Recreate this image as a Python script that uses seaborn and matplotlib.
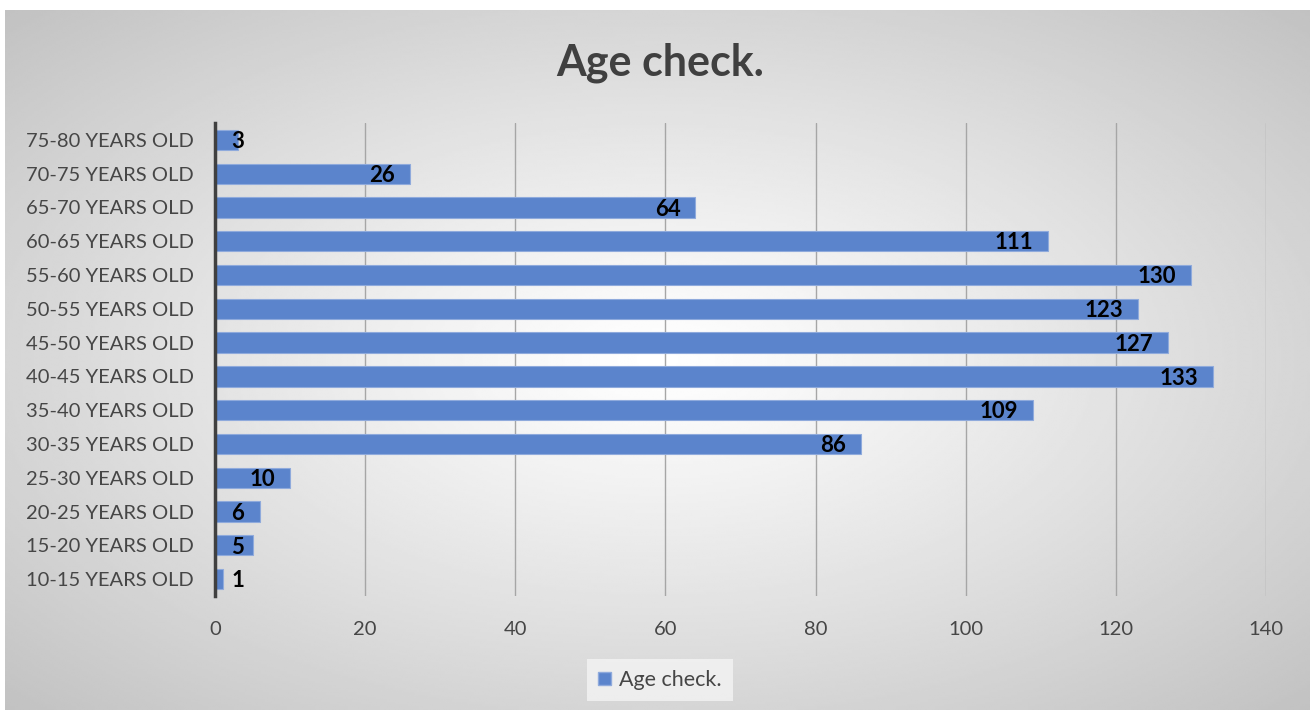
import numpy as np
import pandas as pd
import seaborn as sns
import matplotlib.pyplot as plt
from matplotlib.patches import Patch

# data, youngest to oldest
age_groups = ['10-15 YEARS OLD', '15-20 YEARS OLD', '20-25 YEARS OLD', '25-30 YEARS OLD',
              '30-35 YEARS OLD', '35-40 YEARS OLD', '40-45 YEARS OLD', '45-50 YEARS OLD',
              '50-55 YEARS OLD', '55-60 YEARS OLD', '60-65 YEARS OLD', '65-70 YEARS OLD',
              '70-75 YEARS OLD', '75-80 YEARS OLD']
counts = [1, 5, 6, 10, 86, 109, 133, 127, 123, 130, 111, 64, 26, 3]
x_ticks = [0, 20, 40, 60, 80, 100, 120, 140]

sns.set_style('white')
plt.rcParams['font.family'] = ['Lato', 'DejaVu Sans']

BAR = '#5B84CC'
TXT = '#464646'

df = pd.DataFrame({'group': age_groups, 'count': counts})
order = age_groups[::-1]

fig = plt.figure(figsize=(13.12, 7.13), dpi=100)
fig.patch.set_facecolor('white')

# radial gradient background like the office chart area
bg = fig.add_axes([5 / 1312, 3 / 713, 1305 / 1312, 700 / 713], zorder=-5)
yy, xx = np.mgrid[-1:1:300j, -1:1:600j]
r = np.sqrt(xx ** 2 + yy ** 2) / np.sqrt(2)
shade = 1.0 - 0.24 * np.clip(r, 0, 1) ** 1.1
bg.imshow(shade, cmap='gray', vmin=0, vmax=1, aspect='auto', interpolation='bilinear')
bg.axis('off')

ax = fig.add_axes([215 / 1312, 1 - 596 / 713, (1266 - 215) / 1312, (596 - 123) / 713])
ax.patch.set_alpha(0)
sns.barplot(data=df, y='group', x='count', order=order, orient='h', color=BAR,
            saturation=1, width=0.6, edgecolor='#8FAADC', linewidth=0.8, ax=ax, zorder=3)

ax.set_xlim(0, 140)
ax.set_xticks(x_ticks)
ax.set_xticklabels([str(t) for t in x_ticks])
for t in x_ticks[1:]:
    ax.axvline(t, color='#a6a6a6', lw=1, zorder=1)
ax.tick_params(axis='both', length=0, labelsize=14.5, colors=TXT)
ax.tick_params(axis='x', pad=18)
ax.tick_params(axis='y', pad=15)
ax.set_xlabel('')
ax.set_ylabel('')
for s in ['top', 'right', 'bottom']:
    ax.spines[s].set_visible(False)
ax.spines['left'].set_color('#404040')
ax.spines['left'].set_linewidth(2.5)
ax.spines['left'].set_zorder(4)

for i, g in enumerate(order):
    v = counts[age_groups.index(g)]
    if v < 10:
        ax.text(2.2, i + 0.05, str(v), ha='left', va='center', fontsize=16, fontweight='bold',
                color='black', zorder=5)
    else:
        ax.text(v - 2.0, i + 0.05, str(v), ha='right', va='center', fontsize=16, fontweight='bold',
                color='black', zorder=5)

fig.text(660 / 1312, 1 - 63 / 713, 'Age check.', ha='center', va='center',
         fontsize=31, fontweight='bold', color='#404040')

leg = fig.legend(handles=[Patch(facecolor=BAR, edgecolor='#8FAADC', label='Age check.')],
                 loc='center', bbox_to_anchor=(660 / 1312, 1 - 680 / 713), frameon=True,
                 fontsize=15.5, handlelength=0.6, handleheight=0.6, handletextpad=0.4,
                 borderpad=0.5, fancybox=False)
leg.get_frame().set_facecolor('#f4f4f4')
leg.get_frame().set_edgecolor('none')
for t in leg.get_texts():
    t.set_color(TXT)

fig.savefig('out.png', dpi=100)
